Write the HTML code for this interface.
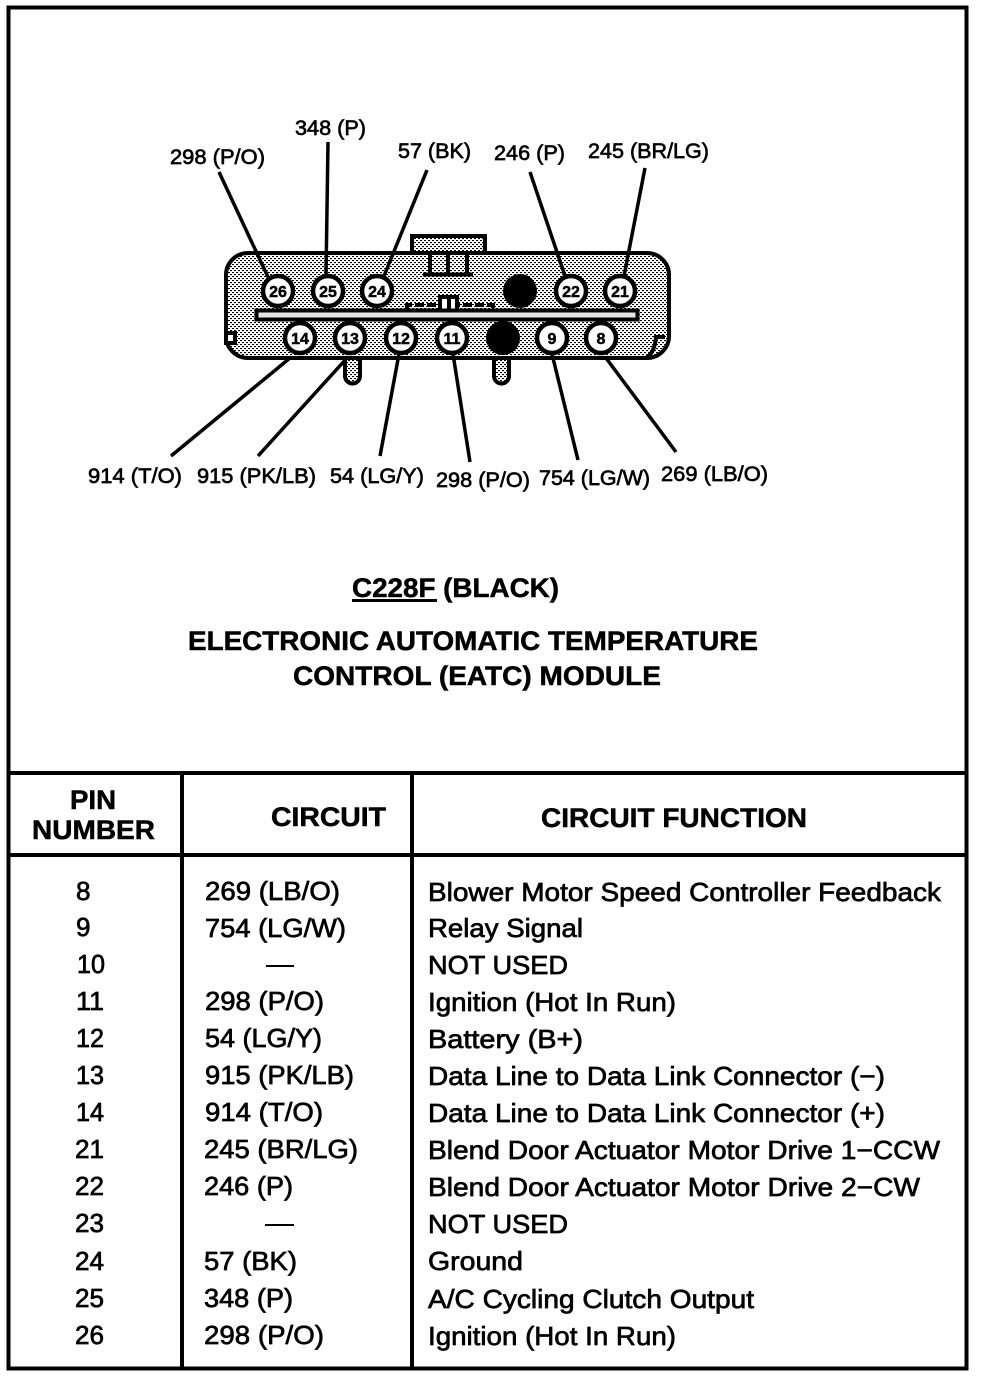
<!DOCTYPE html>
<html><head><meta charset="utf-8"><style>
html,body{margin:0;padding:0;background:#fff}
svg{display:block}
text{font-family:"Liberation Sans",Arial,sans-serif;fill:#000;stroke:#000;stroke-width:.7}
.h{font-weight:bold;font-size:27px;stroke-width:.5}
.l{font-size:21px;stroke-width:.65}
.r{font-size:26px}
.n{font-size:16px;font-weight:bold;text-anchor:middle;stroke-width:.5}
</style></head><body>
<svg width="992" height="1378" viewBox="0 0 992 1378" xmlns="http://www.w3.org/2000/svg">
<defs>
<pattern id="d" width="4" height="4" patternUnits="userSpaceOnUse">
<rect width="4" height="4" fill="#fff"/>
<rect x="0" y="0" width="2" height="1.1" fill="#000"/>
<rect x="2" y="2" width="2" height="1.1" fill="#000"/>
</pattern>
</defs>
<rect width="992" height="1378" fill="#fff"/>
<!-- frame -->
<rect x="8.5" y="7.5" width="958" height="1361" fill="none" stroke="#000" stroke-width="4"/>
<g stroke="#000" stroke-width="4">
<line x1="8" y1="773" x2="967" y2="773"/>
<line x1="8" y1="855" x2="967" y2="855"/>
<line x1="182" y1="773" x2="182" y2="1369"/>
<line x1="412" y1="773" x2="412" y2="1369"/>
</g>
<!-- lower tabs -->
<g fill="url(#d)" stroke="#000" stroke-width="4">
<path d="M345 356V376a7.500 7.500 0 0 0 15 0V356Z"/>
<path d="M494 356V376a7.500 7.500 0 0 0 15 0V356Z"/>
<rect x="412" y="236" width="73" height="20"/>
<rect x="226" y="253" width="443" height="105" rx="22"/>
</g>
<!-- connector details -->
<g stroke="#000" stroke-width="4" fill="none">
<line x1="430" y1="253" x2="430" y2="274"/>
<line x1="448" y1="253" x2="448" y2="274"/>
<line x1="467" y1="253" x2="467" y2="274"/>
<line x1="423" y1="274.500" x2="473" y2="274.500"/>
<path d="M407 309V305H493V309" stroke-dasharray="9 3"/>
<path d="M440 309V297H457V309" fill="#fff"/>
<line x1="449" y1="297" x2="449" y2="309"/>
<path d="M665 337H656C655 348 652 354 646 358"/>
<rect x="226" y="333" width="9" height="10" fill="#fff"/>
</g>
<rect x="256.500" y="310.500" width="381" height="9" fill="#e4e4e4" stroke="#000" stroke-width="4"/>
<!-- leaders -->
<g stroke="#000" stroke-width="3.500" fill="none">
<line x1="219" y1="172" x2="268" y2="277"/>
<line x1="328" y1="142" x2="326" y2="276"/>
<line x1="427" y1="170" x2="384" y2="276"/>
<line x1="530" y1="172" x2="565" y2="276"/>
<line x1="645" y1="168" x2="624" y2="276"/>
<line x1="171" y1="456" x2="290" y2="358"/>
<line x1="258" y1="456" x2="347" y2="358"/>
<line x1="380" y1="456" x2="399" y2="354"/>
<line x1="470" y1="462" x2="453" y2="354"/>
<line x1="578" y1="460" x2="552" y2="354"/>
<line x1="676" y1="452" x2="606" y2="358"/>
</g>
<!-- pins -->
<g fill="#fff" stroke="#000" stroke-width="4.500">
<circle cx="278" cy="291" r="15"/><circle cx="328" cy="291" r="15"/><circle cx="377" cy="291" r="15"/>
<circle cx="571" cy="291" r="15"/><circle cx="620" cy="291" r="15"/>
<circle cx="300" cy="338" r="15"/><circle cx="350" cy="338" r="15"/><circle cx="401" cy="338" r="15"/>
<circle cx="452" cy="338" r="15"/><circle cx="552" cy="338" r="15"/><circle cx="601" cy="338" r="15"/>
</g>
<circle cx="520" cy="291" r="17" fill="#000"/>
<circle cx="503" cy="338" r="17" fill="#000"/>
<g>
<text class="n" x="278" y="297">26</text><text class="n" x="328" y="297">25</text><text class="n" x="377" y="297">24</text>
<text class="n" x="571" y="297">22</text><text class="n" x="620" y="297">21</text>
<text class="n" x="300" y="344">14</text><text class="n" x="350" y="344">13</text><text class="n" x="401" y="344">12</text>
<text class="n" x="452" y="344">11</text><text class="n" x="552" y="344">9</text><text class="n" x="601" y="344">8</text>
</g>
<!-- wire labels -->
<g class="l">
<text class="l" x="170" y="164" textLength="95" lengthAdjust="spacingAndGlyphs">298 (P/O)</text>
<text class="l" x="295" y="135" textLength="71" lengthAdjust="spacingAndGlyphs">348 (P)</text>
<text class="l" x="398" y="158" textLength="73" lengthAdjust="spacingAndGlyphs">57 (BK)</text>
<text class="l" x="494" y="160" textLength="71" lengthAdjust="spacingAndGlyphs">246 (P)</text>
<text class="l" x="588" y="158" textLength="121" lengthAdjust="spacingAndGlyphs">245 (BR/LG)</text>
<text class="l" x="88" y="483" textLength="94" lengthAdjust="spacingAndGlyphs">914 (T/O)</text>
<text class="l" x="197" y="483" textLength="119" lengthAdjust="spacingAndGlyphs">915 (PK/LB)</text>
<text class="l" x="330" y="483" textLength="94" lengthAdjust="spacingAndGlyphs">54 (LG/Y)</text>
<text class="l" x="436" y="487" textLength="94" lengthAdjust="spacingAndGlyphs">298 (P/O)</text>
<text class="l" x="539" y="485" textLength="111" lengthAdjust="spacingAndGlyphs">754 (LG/W)</text>
<text class="l" x="661" y="481" textLength="107" lengthAdjust="spacingAndGlyphs">269 (LB/O)</text>
</g>
<!-- titles -->
<text class="h" x="352" y="597" textLength="207" lengthAdjust="spacingAndGlyphs">C228F (BLACK)</text>
<rect x="352" y="599" width="85" height="3"/>
<text class="h" x="188" y="650" textLength="570" lengthAdjust="spacingAndGlyphs">ELECTRONIC AUTOMATIC TEMPERATURE</text>
<text class="h" x="293" y="685" textLength="368" lengthAdjust="spacingAndGlyphs">CONTROL (EATC) MODULE</text>
<!-- table head -->
<text class="h" x="70" y="809" textLength="46" lengthAdjust="spacingAndGlyphs">PIN</text>
<text class="h" x="32" y="839" textLength="123" lengthAdjust="spacingAndGlyphs">NUMBER</text>
<text class="h" x="271" y="826" textLength="115" lengthAdjust="spacingAndGlyphs">CIRCUIT</text>
<text class="h" x="541" y="827" textLength="266" lengthAdjust="spacingAndGlyphs">CIRCUIT FUNCTION</text>
<!-- pin column -->
<g class="r">
<text class="r" x="76" y="900">8</text>
<text class="r" x="76" y="936">9</text>
<text class="r" x="77" y="973" textLength="28" lengthAdjust="spacingAndGlyphs">10</text>
<text class="r" x="76" y="1010" textLength="28" lengthAdjust="spacingAndGlyphs">11</text>
<text class="r" x="76" y="1047" textLength="28" lengthAdjust="spacingAndGlyphs">12</text>
<text class="r" x="76" y="1084" textLength="28" lengthAdjust="spacingAndGlyphs">13</text>
<text class="r" x="76" y="1121" textLength="28" lengthAdjust="spacingAndGlyphs">14</text>
<text class="r" x="75" y="1158" textLength="29" lengthAdjust="spacingAndGlyphs">21</text>
<text class="r" x="75" y="1195" textLength="29" lengthAdjust="spacingAndGlyphs">22</text>
<text class="r" x="75" y="1232" textLength="29" lengthAdjust="spacingAndGlyphs">23</text>
<text class="r" x="75" y="1270" textLength="29" lengthAdjust="spacingAndGlyphs">24</text>
<text class="r" x="75" y="1307" textLength="29" lengthAdjust="spacingAndGlyphs">25</text>
<text class="r" x="75" y="1344" textLength="29" lengthAdjust="spacingAndGlyphs">26</text>
<!-- circuit column -->
<text class="r" x="205" y="900" textLength="135" lengthAdjust="spacingAndGlyphs">269 (LB/O)</text>
<text class="r" x="205" y="937" textLength="141" lengthAdjust="spacingAndGlyphs">754 (LG/W)</text>
<rect x="266" y="965" width="28" height="2"/>
<text class="r" x="205" y="1010" textLength="119" lengthAdjust="spacingAndGlyphs">298 (P/O)</text>
<text class="r" x="205" y="1047" textLength="117" lengthAdjust="spacingAndGlyphs">54 (LG/Y)</text>
<text class="r" x="205" y="1084" textLength="149" lengthAdjust="spacingAndGlyphs">915 (PK/LB)</text>
<text class="r" x="205" y="1121" textLength="118" lengthAdjust="spacingAndGlyphs">914 (T/O)</text>
<text class="r" x="204" y="1158" textLength="154" lengthAdjust="spacingAndGlyphs">245 (BR/LG)</text>
<text class="r" x="204" y="1195" textLength="89" lengthAdjust="spacingAndGlyphs">246 (P)</text>
<rect x="265" y="1224" width="29" height="2"/>
<text class="r" x="204" y="1270" textLength="93" lengthAdjust="spacingAndGlyphs">57 (BK)</text>
<text class="r" x="204" y="1307" textLength="89" lengthAdjust="spacingAndGlyphs">348 (P)</text>
<text class="r" x="204" y="1344" textLength="120" lengthAdjust="spacingAndGlyphs">298 (P/O)</text>
<!-- function column -->
<text class="r" x="428" y="901" textLength="513" lengthAdjust="spacingAndGlyphs">Blower Motor Speed Controller Feedback</text>
<text class="r" x="428" y="937" textLength="155" lengthAdjust="spacingAndGlyphs">Relay Signal</text>
<text class="r" x="428" y="974" textLength="140" lengthAdjust="spacingAndGlyphs">NOT USED</text>
<text class="r" x="428" y="1011" textLength="248" lengthAdjust="spacingAndGlyphs">Ignition (Hot In Run)</text>
<text class="r" x="428" y="1048" textLength="155" lengthAdjust="spacingAndGlyphs">Battery (B+)</text>
<text class="r" x="428" y="1085" textLength="457" lengthAdjust="spacingAndGlyphs">Data Line to Data Link Connector (−)</text>
<text class="r" x="428" y="1122" textLength="457" lengthAdjust="spacingAndGlyphs">Data Line to Data Link Connector (+)</text>
<text class="r" x="428" y="1159" textLength="512" lengthAdjust="spacingAndGlyphs">Blend Door Actuator Motor Drive 1−CCW</text>
<text class="r" x="428" y="1196" textLength="492" lengthAdjust="spacingAndGlyphs">Blend Door Actuator Motor Drive 2−CW</text>
<text class="r" x="428" y="1233" textLength="140" lengthAdjust="spacingAndGlyphs">NOT USED</text>
<text class="r" x="428" y="1270" textLength="95" lengthAdjust="spacingAndGlyphs">Ground</text>
<text class="r" x="428" y="1308" textLength="326" lengthAdjust="spacingAndGlyphs">A/C Cycling Clutch Output</text>
<text class="r" x="428" y="1345" textLength="248" lengthAdjust="spacingAndGlyphs">Ignition (Hot In Run)</text>
</g>
</svg>
</body></html>
